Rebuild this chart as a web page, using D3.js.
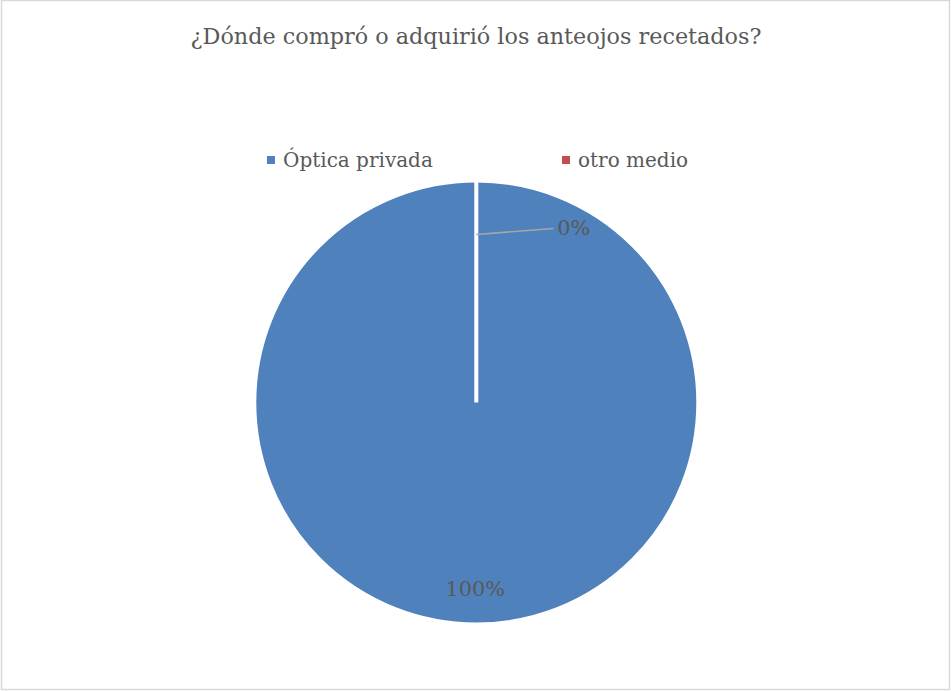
<!DOCTYPE html>
<html>
<head>
<meta charset="utf-8">
<script src="https://cdn.jsdelivr.net/npm/d3@7"></script>
<style>
  html, body { margin: 0; padding: 0; background: #fff; }
  svg { display: block; }
  text { font-family: "DejaVu Serif", "Liberation Serif", serif; fill: #595959; }
</style>
</head>
<body>
<svg id="chart" width="951" height="691"></svg>
<script>
// Survey answers: where the prescription glasses were bought
const titleText = "¿Dónde compró o adquirió los anteojos recetados?";
const categories = ["Óptica privada", "otro medio"];
const values = [100, 0];
const colors = ["#4F81BD", "#C0504D"];

const width = 951, height = 691;
const cx = 476.3, cy = 402.5, radius = 222;

const svg = d3.select("#chart");

// chart area frame
svg.append("rect")
  .attr("x", 1.5).attr("y", 0.5)
  .attr("width", 948).attr("height", 689)
  .attr("fill", "#fff")
  .attr("stroke", "#D9D9D9")
  .attr("stroke-width", 1.5);

// title
svg.append("text")
  .attr("x", 476).attr("y", 44)
  .attr("text-anchor", "middle")
  .style("font-size", "22.3px")
  .text(titleText);

// legend
const legendItems = [
  { x: 267, text: categories[0], color: colors[0] },
  { x: 562, text: categories[1], color: colors[1] }
];
const legend = svg.append("g");
legendItems.forEach(d => {
  legend.append("rect")
    .attr("x", d.x).attr("y", 156)
    .attr("width", 8).attr("height", 8)
    .attr("fill", d.color);
  legend.append("text")
    .attr("x", d.x + 16).attr("y", 167)
    .style("font-size", "20px")
    .text(d.text);
});

// pie
const pie = d3.pie().sort(null).value(d => d.value);
const arcs = pie(categories.map((c, i) => ({ name: c, value: values[i], color: colors[i] })));
const arc = d3.arc().innerRadius(0).outerRadius(radius);

const g = svg.append("g").attr("transform", `translate(${cx},${cy})`);
g.selectAll("path.slice")
  .data(arcs)
  .enter().append("path")
  .attr("class", "slice")
  .attr("d", arc)
  .attr("fill", d => d.data.color)
  .attr("stroke", "#fff")
  .attr("stroke-width", 4);

// data labels
const fmt = d => Math.round(d.data.value / d3.sum(values) * 100) + "%";

// large slice: label inside near the rim
const insideArc = d3.arc().innerRadius(186).outerRadius(186);
const big = arcs[0];
const bc = insideArc.centroid(big);
g.append("text")
  .attr("x", bc[0] - 1).attr("y", bc[1])
  .attr("text-anchor", "middle")
  .attr("dominant-baseline", "central")
  .style("font-size", "20.8px")
  .text(fmt(big));

// tiny slice: label pulled out with a leader line
const small = arcs[1];
const leaderArc = d3.arc().innerRadius(168).outerRadius(168);
const p0 = leaderArc.centroid(small);
const p1 = [p0[0] + 77, p0[1] - 6];
g.append("polyline")
  .attr("points", [p0, p1].map(p => p.join(",")).join(" "))
  .attr("fill", "none")
  .attr("stroke", "#A6A6A6")
  .attr("stroke-width", 1.5);
g.append("text")
  .attr("x", p1[0] + 4).attr("y", p1[1] + 1)
  .attr("dominant-baseline", "middle")
  .style("font-size", "20.8px")
  .text(fmt(small));
</script>
</body>
</html>
